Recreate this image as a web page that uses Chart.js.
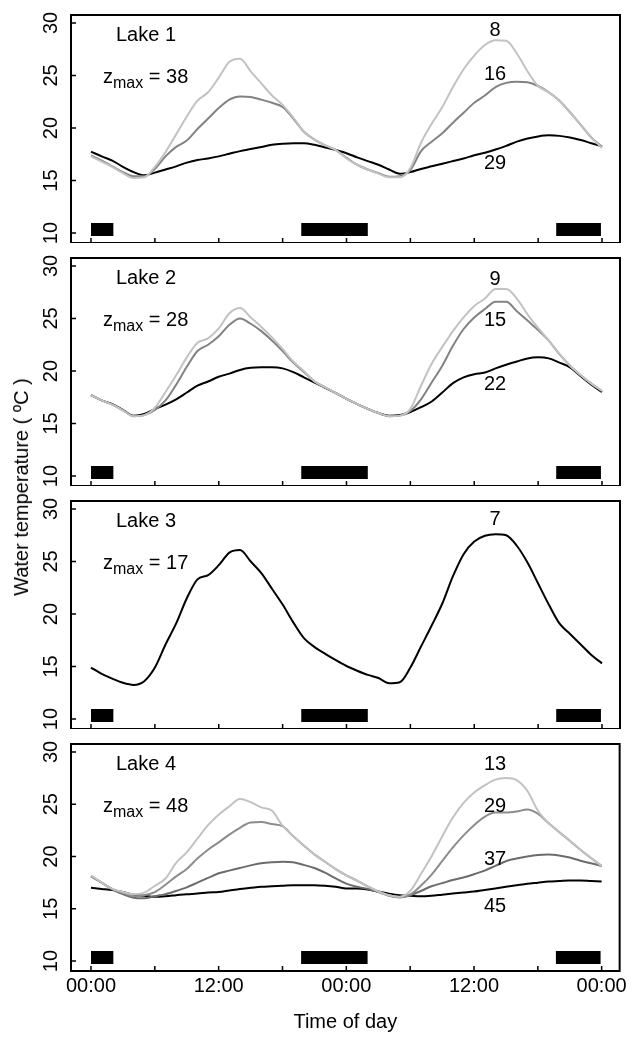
<!DOCTYPE html>
<html><head><meta charset="utf-8">
<script src="https://cdn.jsdelivr.net/npm/chart.js@4.4.1/dist/chart.umd.min.js"></script>
<style>
body{margin:0;background:#fff;}
#wrap{position:relative;width:630px;height:1037px;font-family:"Liberation Sans",Arial,sans-serif;color:#000;overflow:hidden;}
canvas{position:absolute;left:0;}
.t{position:absolute;font-size:20px;line-height:24px;height:24px;white-space:nowrap;}
.c{text-align:center;width:50px;}
.t sub{font-size:16px;vertical-align:-5px;line-height:0;}
#ytitle{position:absolute;left:21px;top:487px;transform:translate(-50%,-50%) rotate(-90deg);font-size:20px;line-height:24px;white-space:nowrap;}
</style></head>
<body>
<div id="wrap">
<canvas id="c1" width="630" height="243" style="top:0px"></canvas>
<canvas id="c2" width="630" height="243" style="top:243px"></canvas>
<canvas id="c3" width="630" height="243" style="top:486px"></canvas>
<canvas id="c4" width="630" height="308" style="top:729px"></canvas>

<div class="t" style="left:116px;top:22px">Lake 1</div>
<div class="t" style="left:103px;top:64px">z<sub>max</sub> = 38</div>
<div class="t c" style="left:470px;top:17px">8</div>
<div class="t c" style="left:470px;top:61px">16</div>
<div class="t c" style="left:470px;top:150px">29</div>

<div class="t" style="left:116px;top:265px">Lake 2</div>
<div class="t" style="left:103px;top:307px">z<sub>max</sub> = 28</div>
<div class="t c" style="left:470px;top:266px">9</div>
<div class="t c" style="left:470px;top:307px">15</div>
<div class="t c" style="left:470px;top:371px">22</div>

<div class="t" style="left:116px;top:508px">Lake 3</div>
<div class="t" style="left:103px;top:550px">z<sub>max</sub> = 17</div>
<div class="t c" style="left:470px;top:506px">7</div>

<div class="t" style="left:116px;top:751px">Lake 4</div>
<div class="t" style="left:103px;top:793px">z<sub>max</sub> = 48</div>
<div class="t c" style="left:470px;top:751px">13</div>
<div class="t c" style="left:470px;top:793px">29</div>
<div class="t c" style="left:470px;top:846px">37</div>
<div class="t c" style="left:470px;top:893px">45</div>

<div id="ytitle">Water temperature ( ºC )</div>
</div>
<script>
// ---- data ----
const hours = [0,1,2,3,4,5,6,7,8,9,10,11,12,13,14,15,16,17,18,19,20,21,22,23,24,25,26,27,28,29,30,31,32,33,34,35,36,37,38,39,40,41,42,43,44,45,46,47,48];
const xTicks = [0,6,12,18,24,30,36,42,48];
const xLabelTicks = [0,12,24,36,48];
const xTickLabels = ['00:00','12:00','00:00','12:00','00:00'];
const yTicks = [10,15,20,25,30];
const nightStart = [0,19.75,43.7];
const nightEnd = [2.1,26.0,47.9];
const nightLevel = 10.33;

const lake1_d8  = [17.3,16.8,16.3,15.7,15.25,15.3,16.3,17.7,19.4,21.1,22.6,23.4,24.8,26.3,26.6,25.4,24.25,23.1,22.2,21.0,19.65,18.9,18.35,17.9,17.1,16.5,16.05,15.65,15.3,15.3,16.2,18.6,20.4,22.0,23.9,25.6,26.9,27.9,28.35,28.3,27.1,25.4,24.0,23.4,22.6,21.5,20.3,19.1,18.1];
const lake1_d16 = [17.4,16.9,16.35,15.8,15.4,15.4,16.1,17.3,18.2,18.8,19.9,20.9,21.9,22.7,23.0,22.95,22.7,22.4,22.0,20.9,19.65,18.9,18.35,17.9,17.15,16.5,16.05,15.7,15.35,15.4,16.0,17.8,18.7,19.5,20.5,21.45,22.4,23.1,23.9,24.3,24.4,24.35,24.0,23.4,22.6,21.5,20.3,19.1,18.2];
const lake1_d29 = [17.75,17.3,16.9,16.3,15.8,15.5,15.75,16.05,16.35,16.7,16.95,17.1,17.3,17.55,17.8,18.0,18.2,18.4,18.5,18.55,18.55,18.4,18.15,17.9,17.6,17.2,16.85,16.5,16.05,15.65,15.8,16.1,16.35,16.6,16.85,17.1,17.4,17.65,17.95,18.3,18.7,19.0,19.2,19.3,19.25,19.1,18.85,18.55,18.25];

const lake2_d9  = [17.7,17.2,16.8,16.25,15.7,15.8,16.5,18.0,19.6,21.3,22.7,23.1,24.05,25.5,26.0,25.1,24.2,23.2,22.1,20.9,20.0,19.0,18.45,17.9,17.35,16.85,16.4,16.0,15.7,15.75,16.4,18.6,20.7,22.3,23.8,25.1,26.2,26.9,27.8,27.8,26.9,25.4,24.1,22.9,21.6,20.5,19.6,18.8,18.1];
const lake2_d15 = [17.7,17.2,16.8,16.25,15.7,15.8,16.3,17.2,18.7,20.4,21.9,22.5,23.3,24.4,25.0,24.5,23.8,22.9,21.9,20.8,19.9,19.0,18.45,17.9,17.35,16.85,16.4,16.0,15.7,15.75,16.2,17.3,18.9,20.5,22.4,24.0,25.1,25.9,26.6,26.6,25.7,24.8,23.9,22.9,21.6,20.5,19.6,18.8,18.1];
const lake2_d22 = [17.7,17.2,16.85,16.3,15.75,15.9,16.4,16.8,17.3,17.95,18.6,19.0,19.45,19.75,20.1,20.3,20.35,20.35,20.25,19.9,19.4,18.9,18.4,17.9,17.35,16.85,16.4,16.0,15.75,15.8,16.1,16.55,17.1,17.95,18.85,19.4,19.7,19.85,20.25,20.6,20.9,21.2,21.3,21.2,20.8,20.35,19.5,18.7,18.0];

const lake3_d7  = [14.9,14.3,13.85,13.45,13.25,13.6,14.9,17.1,19.1,21.5,23.3,23.7,24.65,25.85,26.1,25.0,23.9,22.4,20.9,19.2,17.7,16.85,16.2,15.6,15.05,14.6,14.2,13.9,13.4,13.5,14.9,16.9,18.9,21.0,23.6,25.7,26.9,27.45,27.6,27.5,26.5,24.9,22.9,20.9,19.1,18.1,17.1,16.1,15.3];

const lake4_d13 = [18.2,17.5,16.9,16.6,16.4,16.55,17.2,17.9,19.4,20.4,21.7,23.0,24.0,24.8,25.5,25.2,24.7,24.4,22.95,21.95,21.05,20.2,19.5,18.8,18.2,17.7,17.15,16.65,16.3,16.15,16.7,18.3,20.0,21.9,23.7,25.1,26.1,26.8,27.35,27.5,27.3,26.3,24.4,23.2,22.35,21.5,20.65,19.85,19.1];
const lake4_d29 = [18.1,17.5,16.9,16.5,16.2,16.3,16.6,17.3,18.1,18.8,19.8,20.65,21.35,22.1,22.75,23.25,23.3,23.1,22.9,21.95,21.05,20.2,19.5,18.8,18.2,17.7,17.15,16.65,16.3,16.1,16.35,17.2,18.25,19.55,20.85,22.0,23.0,23.8,24.2,24.2,24.3,24.5,24.1,23.2,22.35,21.5,20.65,19.85,19.1];
const lake4_d37 = [18.1,17.5,16.85,16.4,16.05,16.0,16.2,16.4,16.7,17.05,17.5,17.95,18.4,18.65,18.9,19.15,19.35,19.45,19.5,19.45,19.2,18.9,18.45,17.9,17.4,17.1,16.9,16.6,16.25,16.1,16.3,16.7,17.15,17.45,17.75,18.0,18.3,18.65,19.1,19.55,19.8,20.0,20.15,20.2,20.1,19.9,19.6,19.35,19.1];
const lake4_d45 = [17.0,16.9,16.8,16.6,16.35,16.25,16.15,16.2,16.3,16.4,16.45,16.55,16.6,16.75,16.9,17.0,17.1,17.15,17.2,17.25,17.25,17.25,17.2,17.1,16.95,16.95,16.85,16.65,16.45,16.3,16.25,16.2,16.25,16.35,16.45,16.55,16.65,16.8,16.95,17.1,17.25,17.4,17.5,17.6,17.65,17.7,17.7,17.65,17.6];

// colours
const LIGHT = '#c2c2c2', MID = '#828282', MID2 = '#8c8c8c', DARK = '#6c6c6c', BLACK = '#000000';

// ---- helpers ----
function series(vals, color){
  return {
    data: hours.map((h,i)=>({x:h, y:vals[i]})),
    borderColor: color, borderWidth: 2, pointRadius: 0,
    tension: 0.35, cubicInterpolationMode: 'monotone', fill: false
  };
}
function nightSeries(){
  const pts = [];
  nightStart.forEach((s,i)=>{
    pts.push({x:s, y:nightLevel}); pts.push({x:nightEnd[i], y:nightLevel}); pts.push({x:nightEnd[i], y:null});
  });
  return {data: pts, borderColor:'#000', borderWidth:13, borderCapStyle:'butt', pointRadius:0, tension:0, spanGaps:false, fill:false};
}

const FONT = '"Liberation Sans", Arial, sans-serif';
const framePlugin = {
  id: 'frame',
  afterDatasetsDraw(chart){
    const {ctx, chartArea:a} = chart;
    const x = chart.scales.x, y = chart.scales.y;
    ctx.save();
    ctx.strokeStyle = '#000';
    ctx.lineWidth = 2;
    ctx.strokeRect(a.left, a.top, a.right - a.left, a.bottom - a.top);
    ctx.lineWidth = 1.5;
    ctx.beginPath();
    yTicks.forEach(v=>{ const py = y.getPixelForValue(v); ctx.moveTo(a.left, py); ctx.lineTo(a.left + 5, py); });
    xTicks.forEach(v=>{ const px = x.getPixelForValue(v); ctx.moveTo(px, a.bottom); ctx.lineTo(px, a.bottom - 5); });
    ctx.stroke();
    ctx.fillStyle = '#000';
    ctx.font = '20px ' + FONT;
    ctx.textAlign = 'center';
    ctx.textBaseline = 'middle';
    yTicks.forEach(v=>{
      const py = y.getPixelForValue(v);
      ctx.save(); ctx.translate(50, py); ctx.rotate(-Math.PI/2); ctx.fillText(String(v), 0, 1); ctx.restore();
    });
    ctx.restore();
  }
};

function makePanel(id, datasets, bottom){
  const xScale = {
    type: 'linear', min: -1.879, max: 49.691,
    display: bottom,
    grid: {display:false, drawTicks:false},
    border: {display:false},
    afterBuildTicks: s => { s.ticks = xLabelTicks.map(v=>({value:v})); },
    ticks: {
      padding: 3, color:'#000', font:{family:FONT, size:20}, maxRotation:0, minRotation:0,
      callback: (v, i) => xTickLabels[i]
    },
    title: {display: bottom, text:'Time of day', color:'#000', font:{family:FONT, size:20}, padding:{top:0, bottom:3}},
    afterFit: s => { s.height = bottom ? 66 : 0; }
  };
  return new Chart(document.getElementById(id), {
    type: 'line',
    data: {datasets: datasets.concat([nightSeries()])},
    options: {
      responsive: false, maintainAspectRatio: false, animation: false,
      layout: {padding: {top:15, left:71, right:10, bottom:0}},
      plugins: {legend:{display:false}, tooltip:{enabled:false}},
      scales: {
        x: xScale,
        y: {type:'linear', min: 9.048, max: 30.762, display:false}
      }
    },
    plugins: [framePlugin]
  });
}

makePanel('c1', [series(lake1_d8, LIGHT), series(lake1_d16, MID), series(lake1_d29, BLACK)], false);
makePanel('c2', [series(lake2_d9, LIGHT), series(lake2_d15, MID), series(lake2_d22, BLACK)], false);
makePanel('c3', [series(lake3_d7, BLACK)], false);
makePanel('c4', [series(lake4_d13, LIGHT), series(lake4_d29, MID2), series(lake4_d37, DARK), series(lake4_d45, BLACK)], true);
</script>
</body></html>
